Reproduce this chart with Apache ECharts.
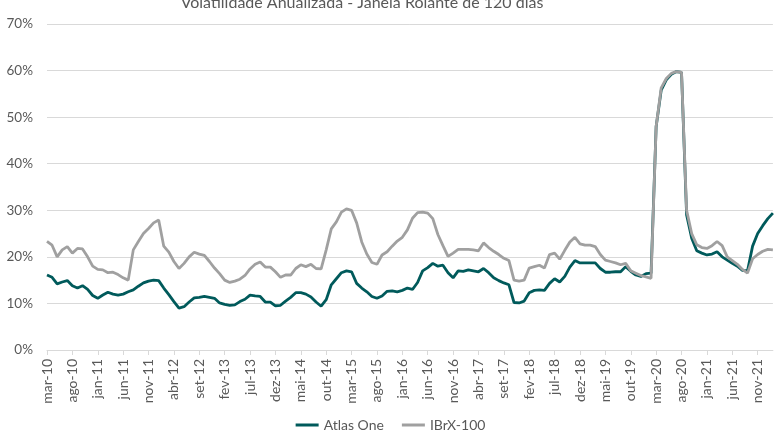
<!DOCTYPE html>
<html>
<head>
<meta charset="utf-8">
<script src="https://cdn.jsdelivr.net/npm/echarts@6/dist/echarts.min.js"></script>
<style>
html,body{margin:0;padding:0;background:#fff;}
#chart{width:781px;height:432px;}
</style>
</head>
<body>
<div id="chart"></div>
<script>
// Month names (pt-BR) and first month/year of the series
const monthNames = ['jan','fev','mar','abr','mai','jun','jul','ago','set','out','nov','dez'];
const startMonth = 2;   // mar
const startYear = 2010;

// Annualised volatility (%), monthly samples mar-10 .. fev-22
const atlasOne = [
  16.1,15.6,14.2,14.6,14.9,13.8,13.3,13.8,13.0,11.7,
  11.1,11.8,12.4,12.0,11.8,12.0,12.5,12.9,13.7,14.4,
  14.8,15.0,14.9,13.3,11.9,10.4,9.0,9.3,10.3,11.2,
  11.3,11.5,11.3,11.1,10.1,9.8,9.6,9.7,10.4,10.9,
  11.8,11.6,11.5,10.3,10.3,9.5,9.6,10.5,11.3,12.3,
  12.3,12.0,11.4,10.3,9.4,10.8,14.0,15.3,16.6,17.0,
  16.8,14.3,13.3,12.5,11.5,11.1,11.6,12.6,12.7,12.5,
  12.8,13.3,13.0,14.5,17.0,17.7,18.6,18.0,18.2,16.6,
  15.5,17.0,16.9,17.2,17.0,16.8,17.5,16.6,15.5,14.9,
  14.4,14.0,10.2,10.1,10.5,12.3,12.8,12.9,12.8,14.3,
  15.3,14.6,15.8,17.8,19.2,18.7,18.7,18.7,18.7,17.5,
  16.7,16.7,16.8,16.8,17.9,16.9,16.1,15.8,16.4,16.5,
  48.0,55.8,58.0,59.2,59.8,59.6,29.0,24.0,21.3,20.8,
  20.4,20.6,21.1,20.0,19.3,18.6,18.0,17.1,17.0,22.3,
  25.0,26.7,28.2,29.4
];
const ibrx100 = [
  23.3,22.5,20.0,21.5,22.2,20.8,21.8,21.7,20.0,18.0,
  17.3,17.2,16.6,16.7,16.2,15.5,15.0,21.5,23.3,25.0,
  26.1,27.3,27.9,22.3,21.0,19.0,17.5,18.6,20.0,21.0,
  20.6,20.3,19.0,17.6,16.4,15.0,14.5,14.8,15.2,16.0,
  17.4,18.4,18.9,17.8,17.8,16.8,15.6,16.1,16.1,17.5,
  18.3,17.9,18.4,17.5,17.4,21.5,26.0,27.5,29.6,30.3,
  30.0,27.3,23.2,20.6,18.8,18.4,20.4,21.1,22.3,23.4,
  24.2,25.8,28.3,29.5,29.6,29.4,28.2,24.8,22.4,20.1,
  20.8,21.6,21.6,21.6,21.5,21.3,23.0,22.0,21.2,20.5,
  19.7,19.2,15.0,14.8,15.0,17.6,17.9,18.2,17.6,20.5,
  20.8,19.5,21.4,23.2,24.2,22.8,22.5,22.5,22.2,20.5,
  19.3,19.0,18.7,18.3,18.6,17.0,16.5,16.0,15.7,15.4,
  48.0,56.3,58.3,59.4,59.8,59.6,30.0,25.0,22.6,22.0,
  21.8,22.4,23.3,22.4,20.0,19.2,18.4,17.3,16.5,19.6,
  20.5,21.2,21.6,21.5
];
const yTicks = [0,10,20,30,40,50,60,70];

const categories = atlasOne.map((_, i) => {
  const t = startMonth + i;
  const yy = String((startYear + Math.floor(t / 12)) % 100).padStart(2, '0');
  return monthNames[t % 12] + '-' + yy;
});

const chart = echarts.init(document.getElementById('chart'), null, {renderer:'canvas'});
const font = 'Lato, "Open Sans", sans-serif';
chart.setOption({
  animation: false,
  title: {
    text: 'Volatilidade Anualizada - Janela Rolante de 120 dias',
    left: 357, top: -10,
    textAlign: 'center',
    textStyle: {fontSize: 16, fontWeight: 'normal', color: '#595959', fontFamily: font}
  },
  legend: {
    top: 413, left: 'center',
    icon: 'rect', itemWidth: 23, itemHeight: 3, itemGap: 18,
    textStyle: {fontSize: 14, color: '#595959', fontFamily: font},
    data: ['Atlas One', 'IBrX-100']
  },
  grid: {left: 47, right: 8.1, top: 24, bottom: 82, containLabel: false},
  xAxis: {
    type: 'category',
    data: categories,
    boundaryGap: false,
    axisLine: {lineStyle: {color: '#D9D9D9'}},
    axisTick: {show: true, interval: 4, length: 5, lineStyle: {color: '#D9D9D9'}},
    axisLabel: {interval: 4, rotate: 90, margin: 9, fontSize: 14, color: '#595959', fontFamily: font},
    splitLine: {show: false}
  },
  yAxis: {
    type: 'value',
    min: yTicks[0], max: yTicks[yTicks.length - 1], interval: 10,
    axisLine: {show: false},
    axisTick: {show: false},
    axisLabel: {formatter: '{value}%', fontSize: 13.5, color: '#595959', fontFamily: font, margin: 14},
    splitLine: {lineStyle: {color: '#D9D9D9', width: 1}}
  },
  series: [
    {name: 'Atlas One', type: 'line', data: atlasOne, symbol: 'none',
     lineStyle: {color: '#005A5B', width: 2.8}, itemStyle: {color: '#005A5B'}},
    {name: 'IBrX-100', type: 'line', data: ibrx100, symbol: 'none',
     lineStyle: {color: '#A0A0A0', width: 2.8}, itemStyle: {color: '#A0A0A0'}}
  ]
});
</script>
</body>
</html>
